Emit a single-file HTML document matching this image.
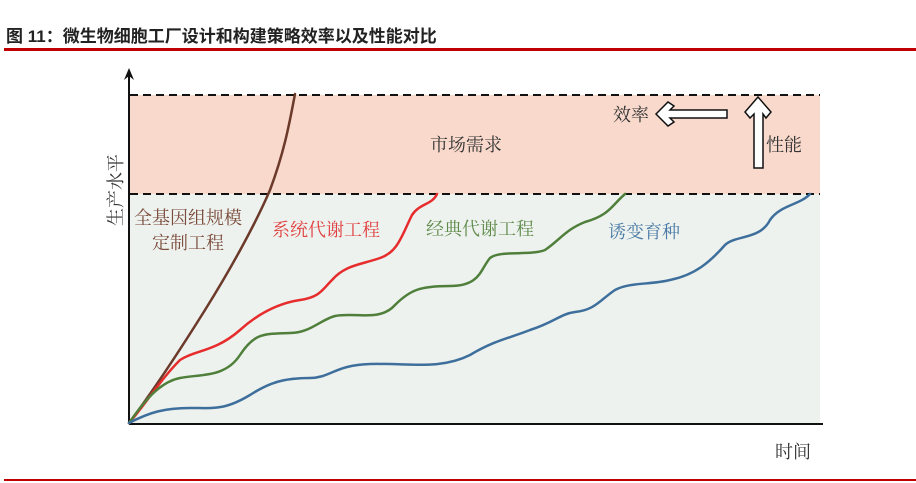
<!DOCTYPE html>
<html><head><meta charset="utf-8"><style>
body{margin:0;background:#fff;width:916px;height:483px;overflow:hidden}
svg{display:block}
text{font-family:"Liberation Serif","Noto Serif CJK SC",serif}
.t{font-family:"Liberation Sans","Noto Sans CJK SC",sans-serif}
</style></head><body>
<svg width="916" height="483" viewBox="0 0 916 483">
<text class="t" x="6" y="42" font-size="17" font-weight="bold" fill="#222">图 11：微生物细胞工厂设计和构建策略效率以及性能对比</text>
<rect x="4" y="48" width="912" height="3" fill="#c00000"/>
<rect x="4" y="479" width="912" height="2" fill="#c00000"/>
<rect x="130" y="95" width="690" height="99" fill="#f8d9cc"/>
<rect x="130" y="194" width="690" height="229" fill="#edf2ee"/>
<line x1="130" y1="95" x2="820" y2="95" stroke="#111" stroke-width="2" stroke-dasharray="8,5"/>
<line x1="130" y1="194" x2="820" y2="194" stroke="#111" stroke-width="2" stroke-dasharray="8,5"/>
<line x1="129" y1="424" x2="823" y2="424" stroke="#111" stroke-width="2"/>
<line x1="129" y1="424" x2="129" y2="72" stroke="#111" stroke-width="2"/>
<path d="M124,80 L129,68 L134,80 L129,76Z" fill="#111"/>
<text x="430" y="151" font-size="18" fill="#333">市场需求</text>
<text x="613" y="121" font-size="18" fill="#333">效率</text>
<path d="M656,114 L668,102 L674,106 L670,110 L727,110 L727,118 L670,118 L674,122 L668,126Z" fill="#fff" stroke="#111" stroke-width="1.5"/>
<path d="M758,97 L771,112 L766,118 L763,114 L763,168 L754,168 L754,114 L750,118 L745,112Z" fill="#fff" stroke="#111" stroke-width="1.5"/>
<text x="766" y="151" font-size="18" fill="#333">性能</text>
<text x="775" y="458" font-size="18" fill="#333">时间</text>
<text transform="translate(122,226) rotate(-90)" font-size="18" fill="#333">生产水平</text>
<text x="134" y="224" font-size="18" fill="#7a4a3a">全基因组规模</text>
<text x="152" y="249" font-size="18" fill="#7a4a3a">定制工程</text>
<text x="272" y="236" font-size="18" fill="#e04040">系统代谢工程</text>
<text x="426" y="235" font-size="18" fill="#5f8a4a">经典代谢工程</text>
<text x="608" y="238" font-size="18" fill="#4a7aa6">诱变育种</text>
<g fill="none" stroke-width="2.5" stroke-linecap="round">
<path stroke="#6b3a2a" d="M129,423 C150,395 180,350 205,310 C230,270 255,225 270,190 C285,150 290,120 295,94"/>
<path stroke="#e62c2c" d="M129,423 C145,405 160,380 180,360 C195,350 215,352 240,330 C260,312 280,303 300,300 C320,297 322,290 332,280 C345,265 360,265 380,258 C398,252 402,235 412,215 C420,203 432,205 437,194"/>
<path stroke="#4f7f3a" d="M129,423 C145,400 160,382 180,378 C200,374 225,378 240,355 C255,332 265,334 290,333 C310,333 320,320 335,316 C355,312 380,322 395,305 C410,290 420,286 450,286 C480,286 480,270 490,258 C500,250 530,256 545,250 C560,240 565,230 585,222 C610,215 612,205 625,194"/>
<path stroke="#3e6f9c" d="M129,423 C150,412 165,408 190,408 C215,408 225,410 250,395 C270,382 285,378 310,378 C330,378 335,365 370,364 C410,363 440,370 470,355 C495,340 510,338 530,330 C555,322 560,314 575,312 C595,310 600,300 615,290 C630,282 650,285 670,280 C695,275 710,262 725,245 C735,235 760,240 770,220 C780,205 800,205 810,194"/>
</g>
</svg>
</body></html>
